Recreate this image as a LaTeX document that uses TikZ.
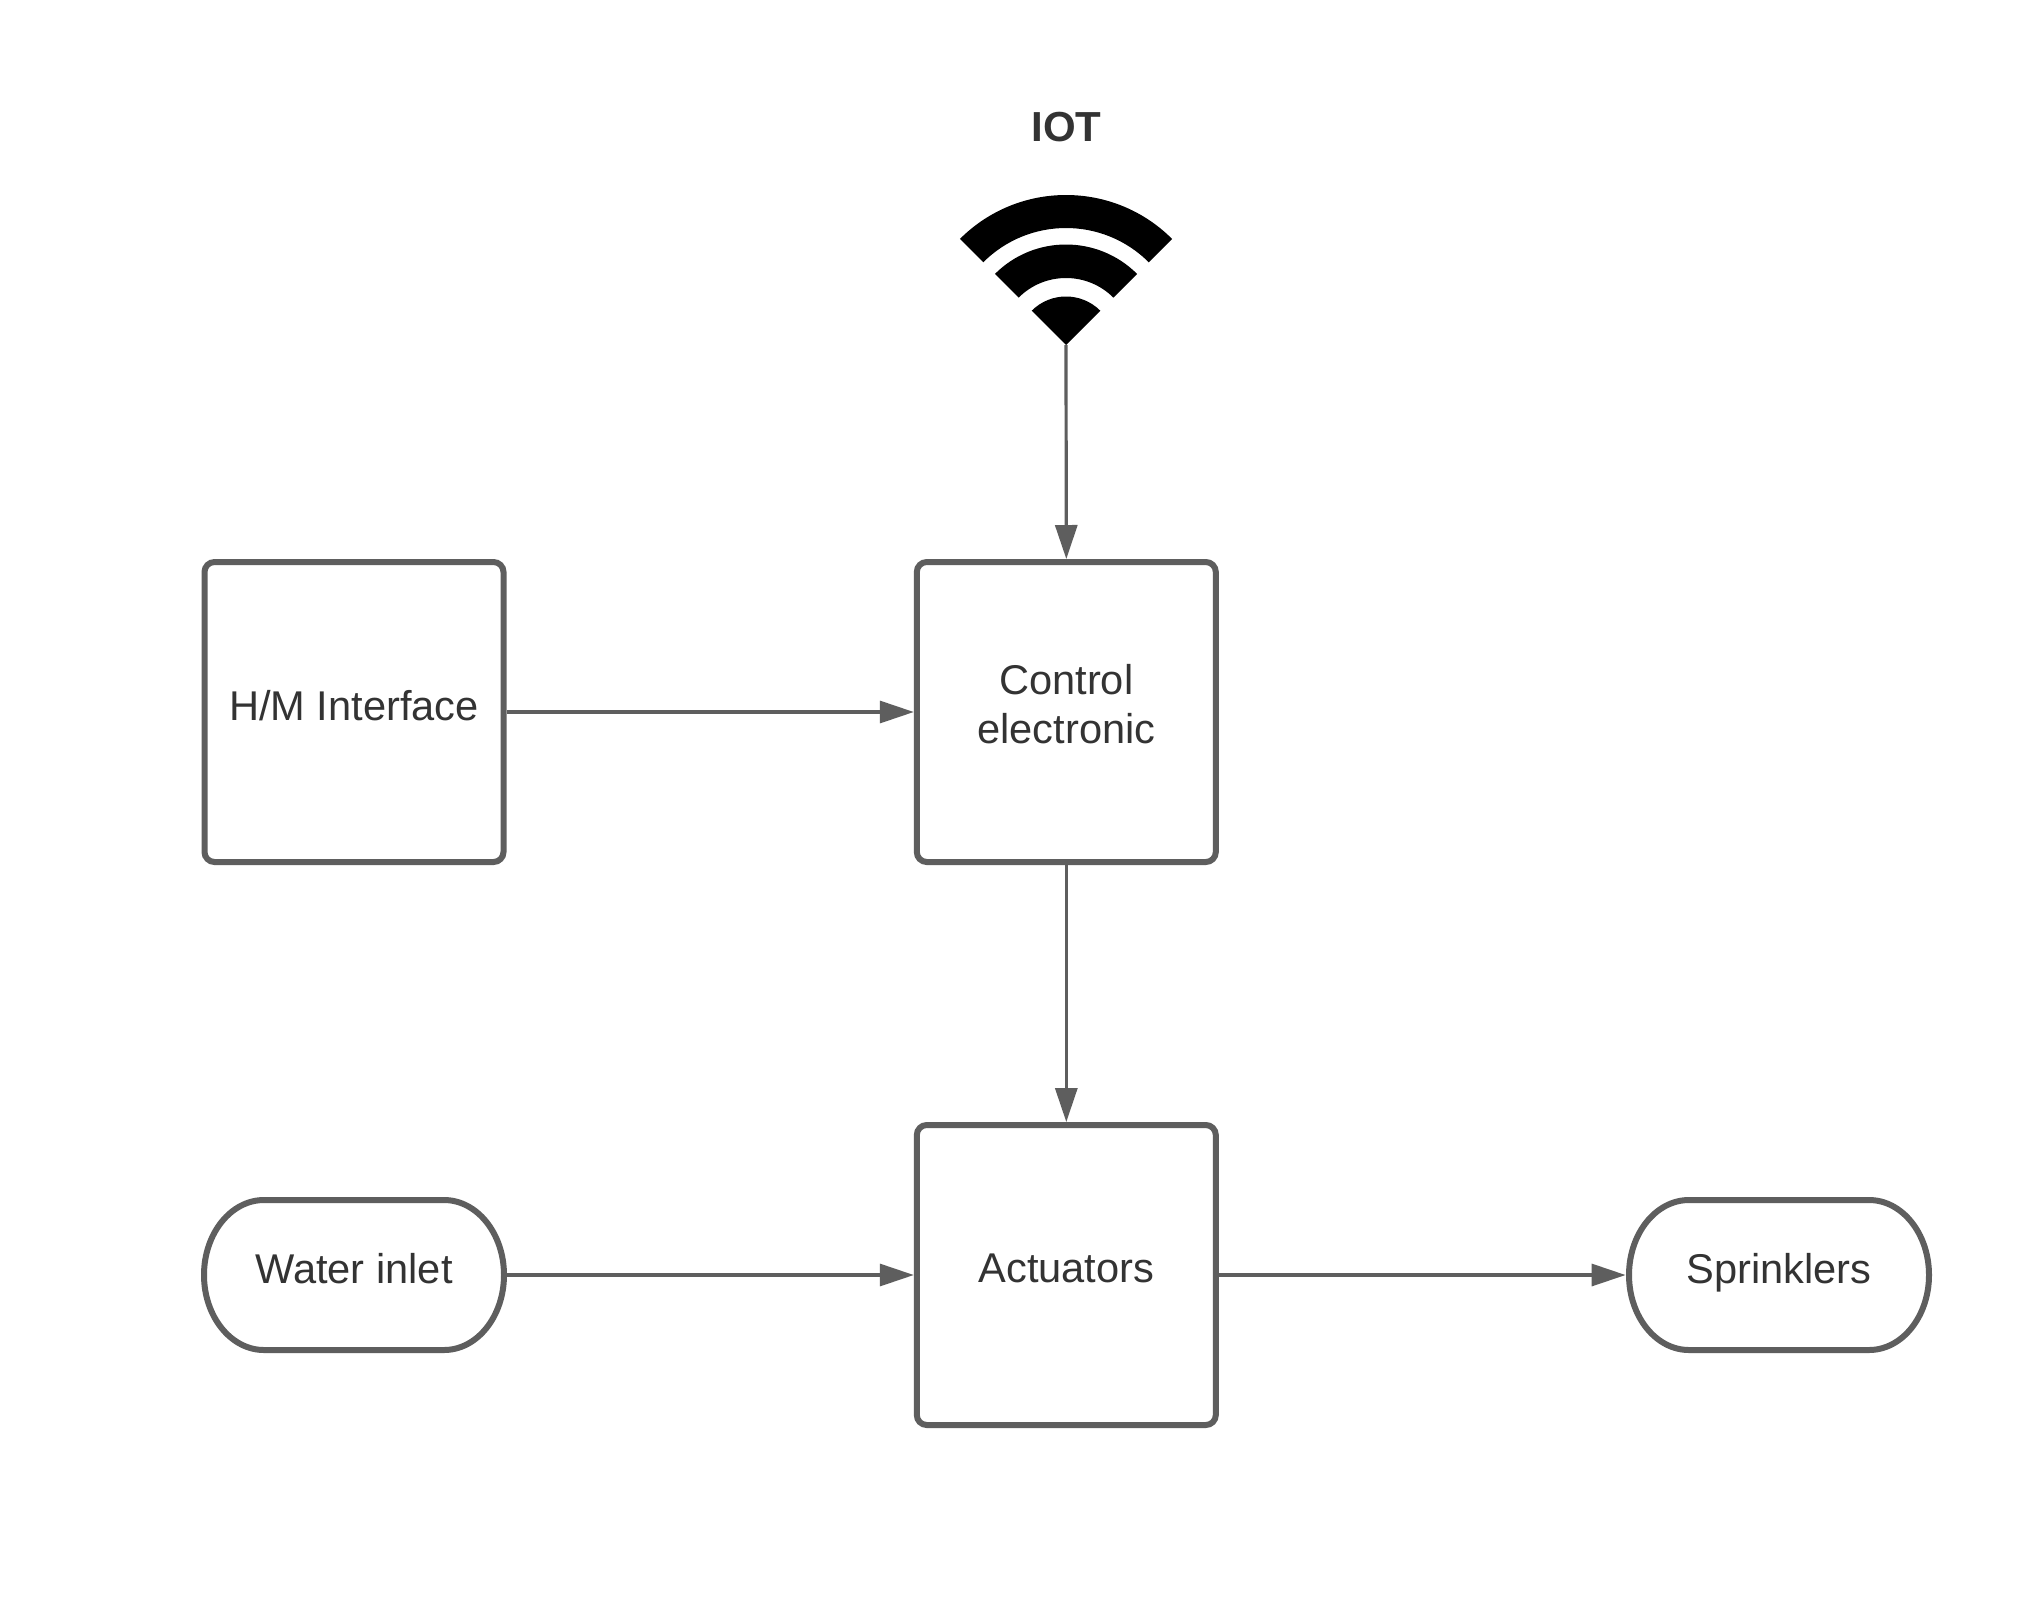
\documentclass[tikz,border=0pt]{standalone}
\usepackage{fontspec}
\setmainfont{Liberation Sans}
\usetikzlibrary{arrows.meta}
\definecolor{linegrey}{HTML}{5E5E5E}
\definecolor{textgrey}{HTML}{333333}
\tikzset{
  boxnode/.style={draw=linegrey,line width=3pt,fill=white,rounded corners=5pt,minimum width=149.5pt,minimum height=150pt,inner sep=0pt,text=textgrey,align=center,font=\fontsize{20.8pt}{24.4pt}\selectfont,text height=15.2pt,text depth=6.9pt},
  termnode/.style={minimum width=153pt,minimum height=78pt,inner sep=0pt,text=textgrey,font=\fontsize{20.8pt}{24.4pt}\selectfont,text height=14.9pt,text depth=6.9pt},
  termline/.style={draw=linegrey,line width=3pt,fill=white},
  conn/.style={draw=linegrey,line width=1.6pt,-{Triangle[length=17pt,width=11pt,fill=linegrey]}},
  titletext/.style={text=textgrey,font=\fontsize{21pt}{25pt}\selectfont\bfseries,inner sep=0pt,anchor=base}
}
\newcommand{\termshape}[1]{%
  \draw[termline] ([shift={(-90,-75)}]#1.center) -- ([shift={(90,-75)}]#1.center)
    arc[start angle=-90,end angle=90,x radius=60,y radius=75]
    -- ([shift={(-90,75)}]#1.center)
    arc[start angle=90,end angle=270,x radius=60,y radius=75] -- cycle;}
\begin{document}
\begin{tikzpicture}[x=0.5pt,y=-0.5pt]
\useasboundingbox[fill=white] (0,0) rectangle (2044,1622);
% wifi icon
\coordinate (wifi) at (1066,345);
\fill[black] (wifi) ++(-135:150) arc[start angle=-135,end angle=-45,radius=150] -- ++(135:33) arc[start angle=-45,end angle=-135,radius=117] -- cycle;
\fill[black] (wifi) ++(-135:100.5) arc[start angle=-135,end angle=-45,radius=100.5] -- ++(135:33.5) arc[start angle=-45,end angle=-135,radius=67] -- cycle;
\fill[black] (wifi) -- ++(-135:48.5) arc[start angle=-135,end angle=-45,radius=48.5] -- cycle;
\node[titletext] (iot) at (1066.5,141) {IOT};
% nodes
\node[boxnode] (hm) at (354,712) {H/M Interface};
\node[boxnode,text height=31pt,text depth=0pt] (ctl) at (1066.3,712) {Control\\electronic};
\node[boxnode,text height=14pt] (act) at (1066.3,1275) {Actuators};
\node[termnode] (water) at (354,1275) {};
\node[termnode] (spr) at (1779,1275) {};
\termshape{water}
\termshape{spr}
\node[termnode] (waterlabel) at (354,1275) {Water inlet};
\node[termnode] (sprlabel) at (1779,1275) {Sprinklers};
% connectors
\draw[conn] (wifi) -- (ctl.north);
\draw[conn] (hm.east) -- (ctl.west);
\draw[conn] (ctl.south) -- (act.north);
\draw[conn] (water.east) -- (act.west);
\draw[conn] (act.east) -- (spr.west);
\end{tikzpicture}
\end{document}
